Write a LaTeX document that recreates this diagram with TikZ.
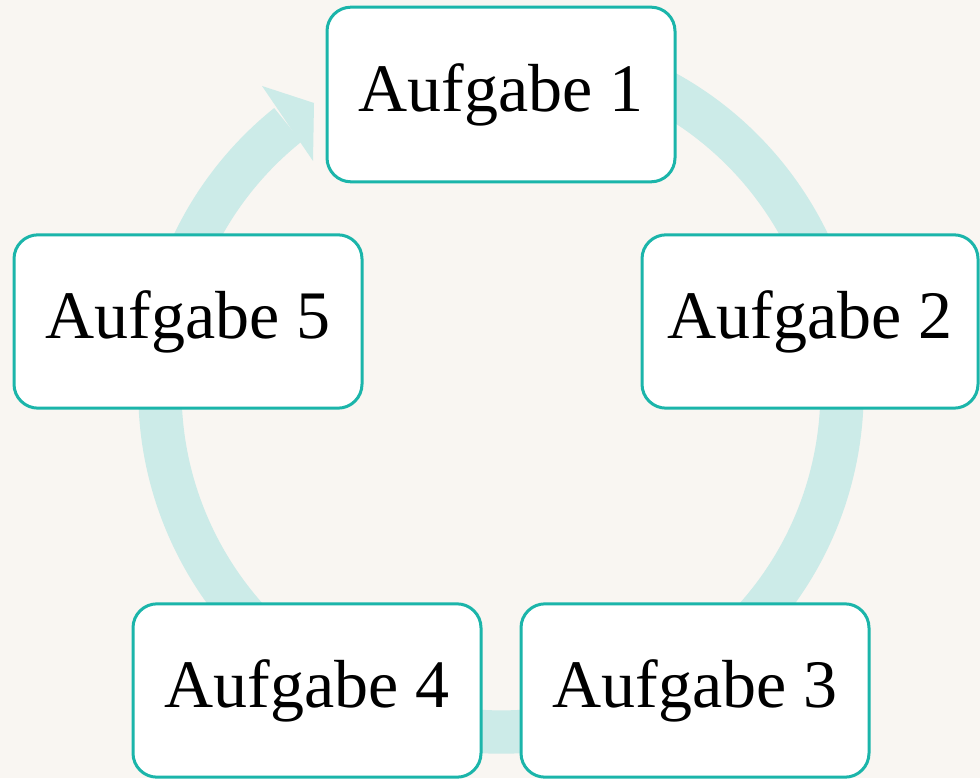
\documentclass[tikz,border=0pt]{standalone}
\usepackage{fontspec}
\setmainfont{Liberation Serif}
\definecolor{paper}{HTML}{F9F6F2}
\definecolor{ringc}{HTML}{CCEBE8}
\definecolor{tealb}{HTML}{1BB5AA}
\begin{document}
\begin{tikzpicture}[x=0.75pt,y=0.75pt,
  taskbox/.style={draw=tealb, line width=2.25pt, fill=white, rounded corners=18pt,
    minimum height=130pt, inner sep=0pt, font=\fontsize{51}{60}\selectfont, text=black},
  ring/.style={draw=ringc, line width=32.5pt}]
\useasboundingbox (0,0) rectangle (980,778);
\fill[paper] (0,0) rectangle (980,778);
% ring
\coordinate (c) at (501,387);
\draw[ring] (c) ++(80:341) arc[start angle=80, end angle=-231.3, radius=341];
\coordinate (h1) at (262,692);
\coordinate (h2) at (314,675);
\coordinate (h3) at (313,617);
\fill[ringc] (h1) -- (h2) -- (h3) -- cycle;
% boxes
\node[taskbox, minimum width=261pt, minimum height=131pt] (a1) at (501,683.5) {Aufgabe 1};
\node[taskbox, minimum width=252pt] (a2) at (810,456.5) {Aufgabe 2};
\node[taskbox, minimum width=261pt] (a3) at (695,87.5) {Aufgabe 3};
\node[taskbox, minimum width=261pt] (a4) at (307,87.5) {Aufgabe 4};
\node[taskbox, minimum width=261pt] (a5) at (188,456.5) {Aufgabe 5};
\end{tikzpicture}
\end{document}
